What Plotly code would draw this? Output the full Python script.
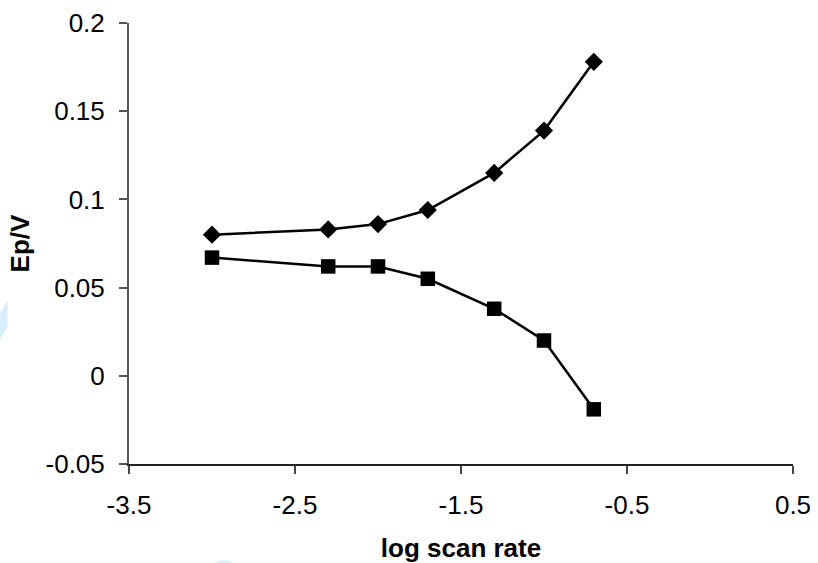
import plotly.graph_objects as go

log_scan_rate = [-3.0, -2.3, -2.0, -1.7, -1.3, -1.0, -0.7]
ep_anodic = [0.080, 0.083, 0.086, 0.094, 0.115, 0.139, 0.178]
ep_cathodic = [0.067, 0.062, 0.062, 0.055, 0.038, 0.020, -0.019]

x_tick_vals = [-3.5, -2.5, -1.5, -0.5, 0.5]
x_tick_text = ["-3.5", "-2.5", "-1.5", "-0.5", "0.5"]
y_tick_vals = [-0.05, 0, 0.05, 0.1, 0.15, 0.2]
y_tick_text = ["-0.05", "0", "0.05", "0.1", "0.15", "0.2"]

font_family = "Liberation Sans, Arial, sans-serif"

fig = go.Figure()
fig.add_trace(go.Scatter(
    x=log_scan_rate, y=ep_anodic, mode="lines+markers",
    line=dict(color="black", width=2.5),
    marker=dict(symbol="diamond", size=14, color="black"),
    showlegend=False, cliponaxis=False,
))
fig.add_trace(go.Scatter(
    x=log_scan_rate, y=ep_cathodic, mode="lines+markers",
    line=dict(color="black", width=2.5),
    marker=dict(symbol="square", size=14.5, color="black"),
    showlegend=False, cliponaxis=False,
))

# faint watermark fragments
fig.add_shape(type="path", xref="paper", yref="paper",
              path="M -0.195 0.28 L -0.183 0.31 L -0.183 0.37 L -0.195 0.34 Z",
              fillcolor="#d6eefb", line=dict(width=0), layer="below")
fig.add_shape(type="circle", xref="paper", yref="paper",
              x0=0.117, x1=0.167, y0=-0.290, y1=-0.218,
              fillcolor="#d6eefb", line=dict(width=0), layer="below")

fig.update_layout(
    width=818, height=563,
    margin=dict(l=129, r=25, t=23, b=99, autoexpand=False),
    paper_bgcolor="white", plot_bgcolor="white",
    font=dict(family=font_family, size=26, color="black"),
    xaxis=dict(
        range=[-3.5, 0.5], tickvals=x_tick_vals, ticktext=x_tick_text,
        automargin=False,
        showgrid=False, zeroline=False, showline=True, linecolor="#222222", linewidth=2,
        ticks="outside", ticklen=8, tickwidth=1.5, tickcolor="#444444",
        ticklabelstandoff=9,
        title=dict(text="<b>log scan rate</b>", font=dict(size=26), standoff=20),
    ),
    yaxis=dict(
        range=[-0.05, 0.2], tickvals=y_tick_vals, ticktext=y_tick_text,
        automargin=False,
        showgrid=False, zeroline=False, showline=True, linecolor="#555555", linewidth=2,
        ticks="outside", ticklen=8, tickwidth=1.5, tickcolor="#555555",
        ticklabelstandoff=9,
        title=dict(text="<b>Ep/V</b>", font=dict(size=26), standoff=8),
    ),
)

fig.write_html("out.html")
